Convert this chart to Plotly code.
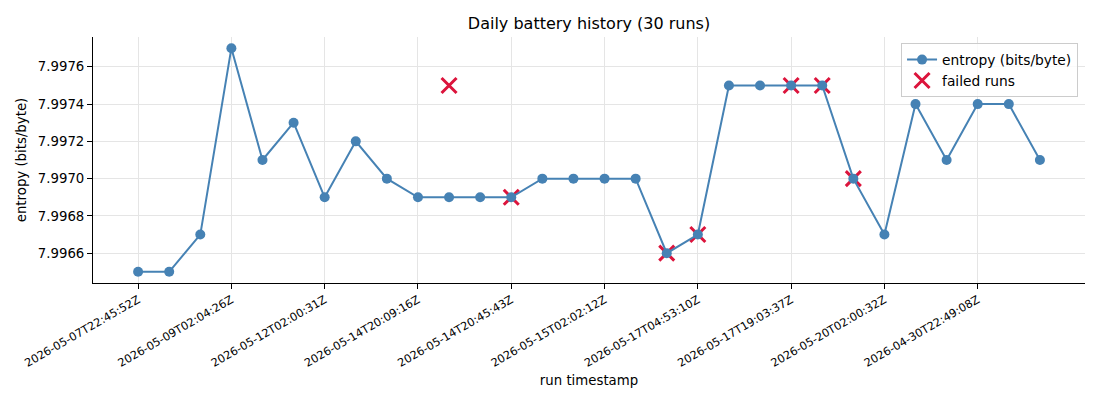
import plotly.graph_objects as go

run_index = list(range(30))
entropy = [7.9965, 7.9965, 7.9967, 7.9977, 7.9971, 7.9973, 7.9969, 7.9972, 7.9970, 7.9969,
           7.9969, 7.9969, 7.9969, 7.9970, 7.9970, 7.9970, 7.9970, 7.9966, 7.9967, 7.9975,
           7.9975, 7.9975, 7.9975, 7.9970, 7.9967, 7.9974, 7.9971, 7.9974, 7.9974, 7.9971]
failed_index = [10, 12, 17, 18, 21, 22, 23]
failed_entropy = [7.9975, 7.9969, 7.9966, 7.9967, 7.9975, 7.9975, 7.9970]
tick_positions = [0, 3, 6, 9, 12, 15, 18, 21, 24, 27]
tick_labels = ["2026-05-07T22:45:52Z", "2026-05-09T02:04:26Z", "2026-05-12T02:00:31Z",
               "2026-05-14T20:09:16Z", "2026-05-14T20:45:43Z", "2026-05-15T02:02:12Z",
               "2026-05-17T04:53:10Z", "2026-05-17T19:03:37Z", "2026-05-20T02:00:32Z",
               "2026-04-30T22:49:08Z"]
y_ticks = [7.9966, 7.9968, 7.9970, 7.9972, 7.9974, 7.9976]

FONT = "DejaVu Sans"
fig = go.Figure()
fig.add_trace(go.Scatter(
    x=failed_index, y=failed_entropy, mode="markers", name="failed runs",
    marker=dict(symbol="x-thin", size=15, color="#DC143C",
                line=dict(color="#DC143C", width=3)),
    legendrank=2,
))
fig.add_trace(go.Scatter(
    x=run_index, y=entropy, mode="lines+markers", name="entropy (bits/byte)",
    line=dict(color="#4682B4", width=2),
    marker=dict(size=10, color="#4682B4"),
    legendrank=1,
))

fig.update_layout(
    width=1100, height=400,
    paper_bgcolor="white", plot_bgcolor="white",
    margin=dict(l=85, r=23, t=29, b=125),
    font=dict(family=FONT, size=13.3, color="black"),
    title=dict(text="Daily battery history (30 runs)", x=(85 + 1077) / 2 / 1100, xanchor="center",
               y=1 - 15 / 400, yanchor="middle", font=dict(size=16, family=FONT)),
    legend=dict(x=0.993, y=0.975, xanchor="right", yanchor="top",
                bordercolor="#cccccc", borderwidth=1, bgcolor="rgba(255,255,255,0.8)",
                font=dict(size=13.8, family=FONT), tracegroupgap=0),
    showlegend=True,
)
fig.update_xaxes(
    range=[-1.45, 30.45], tickmode="array", tickvals=tick_positions, ticktext=tick_labels,
    tickangle=-30, tickfont=dict(size=11.3, family=FONT),
    showline=True, linecolor="black", linewidth=1, mirror=False,
    ticks="outside", ticklen=5, tickcolor="black",
    showgrid=True, gridcolor="#e5e5e5", gridwidth=1, zeroline=False,
    title=dict(text="run timestamp", font=dict(size=13.3, family=FONT), standoff=6),
)
fig.update_yaxes(
    range=[7.99644, 7.99776], tickmode="array", tickvals=y_ticks,
    ticktext=[f"{v:.4f}" for v in y_ticks],
    showline=True, linecolor="black", linewidth=1, mirror=False,
    ticks="outside", ticklen=5, tickcolor="black",
    showgrid=True, gridcolor="#e5e5e5", gridwidth=1, zeroline=False,
    title=dict(text="entropy (bits/byte)", font=dict(size=13.3, family=FONT), standoff=8),
)
fig.write_html("out.html")
